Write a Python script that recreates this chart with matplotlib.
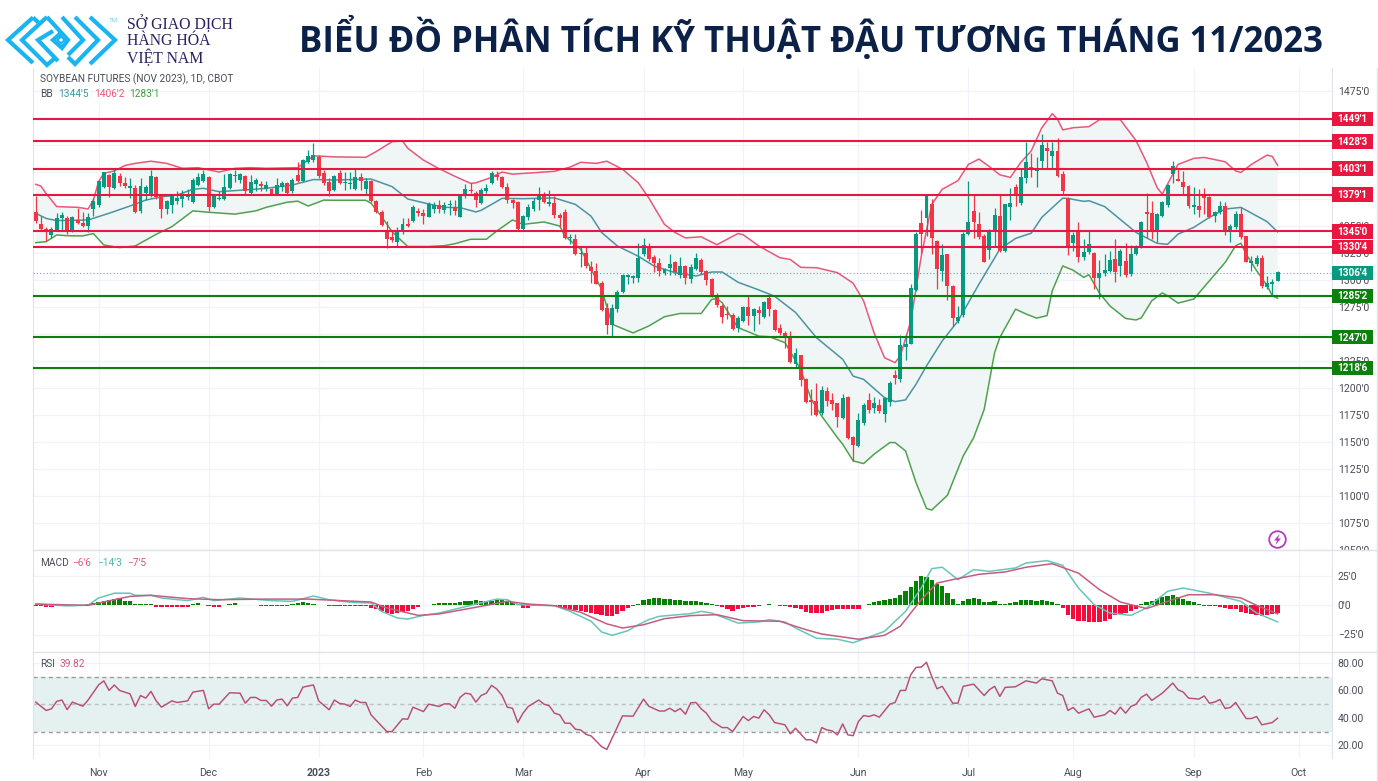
import numpy as np
import matplotlib
matplotlib.use("Agg")
import matplotlib.pyplot as plt
from matplotlib.patches import Rectangle, Circle, Polygon

W, H = 1378, 781

opens = [1363,1352,1347.5,1342,1346,1357,1357,1344,1356,1353,
 1350,1366,1369,1386,1397,1385,1396,1390,1385.5,1385.5,
 1363.5,1381,1378,1395,1379,1365.5,1369,1373,1375,1377,
 1372,1388,1392,1395,1368,1375,1375,1385,1396,1393,
 1396,1381,1389,1389,1384,1384,1380,1386,1390,1382,
 1397,1392,1409,1411,1413.5,1399,1391,1383,1399,1390,
 1389,1384,1395,1384,1392,1373,1363,1346,1340,1335.5,
 1344,1352,1355,1364,1362,1358.5,1366,1369,1365,1369.5,
 1368,1358.6,1378.7,1383,1381,1371,1382,1389.5,1397.5,1395,
 1386.4,1374,1372,1347,1358.6,1365.4,1373.8,1380,1370,1371,
 1360,1363,1338.5,1337.5,1324,1325,1312,1308.5,1297.5,1274,
 1258,1273,1289,1303,1302,1301.5,1323.8,1331,1321.6,1316,
 1306.8,1311,1317,1304.6,1313,1301,1310.5,1318.5,1308.3,1301,
 1286,1276,1268.5,1267.5,1256,1262,1275,1267,1272,1266,
 1283,1272,1256,1250.6,1246.6,1222,1230.6,1208,1188.6,1187.7,
 1176.6,1197,1188.6,1185.9,1172,1192,1155,1146.4,1168,1189.3,
 1181.3,1184.3,1175.7,1187.4,1211.8,1208.7,1238,1241,1290.8,1352.5,
 1357,1370,1336,1308.4,1324,1294.5,1262,1267.7,1343,1364,
 1352,1341,1327.7,1346,1359.5,1326.8,1367.8,1385.7,1371,1394.4,
 1404.5,1401,1409.8,1422,1415,1419.4,1398,1376,1334,1345,
 1321,1325.5,1325,1301.5,1306.4,1308.3,1319.4,1312.6,1318,1305.5,
 1324,1331,1363,1362,1345.6,1358.9,1369.4,1398,1393.4,1391,
 1386.6,1367.8,1368.7,1377.4,1376.5,1358.9,1362.6,1368.7,1345.6,1349.3,
 1361,1340.4,1316,1314.7,1320.3,1293.8,1295.9,1299.3]
highs = [1378,1359,1349,1349,1362,1363,1359,1359,1367,1363,
 1362,1376,1392,1400,1398,1404,1399,1395,1394,1388,
 1394,1388,1402,1396,1380,1374,1379,1382,1383,1384,
 1394,1399,1402,1396,1380,1382,1398,1399,1402,1399,
 1397,1397,1394,1392,1392,1385,1394,1392,1391,1394,
 1409,1412,1420,1427,1416,1402,1394,1397,1402,1400,
 1400,1403,1399,1394,1393,1374,1365,1355,1345,1349,
 1357,1357,1369,1367,1366,1372,1372,1374,1372,1374,
 1374,1379,1388.5,1389.5,1382,1385.5,1388.5,1400.6,1401,1396,
 1389.5,1375,1373,1360,1370,1376,1386.4,1381.5,1383,1378,
 1362,1366,1343,1343,1331,1331,1317.6,1316,1299,1279,
 1277.5,1291,1306,1306,1305,1334.5,1339,1334.5,1323,1320.7,
 1311.4,1324,1317.6,1321.6,1313.6,1314.5,1325,1320.7,1309,1302,
 1288,1277.5,1276,1269,1266.7,1276,1285,1274.4,1276,1281,
 1286,1273,1259,1253,1253,1237,1231,1209,1199,1204.4,
 1202,1201.3,1195.8,1186.5,1194,1192.7,1156,1176.6,1186.5,1195.8,
 1192,1189.6,1192,1206.6,1216.4,1249,1249,1296,1344,1365,
 1378.5,1375,1336.8,1333,1324.4,1295,1276,1344.5,1392,1378.6,
 1363,1342.5,1347,1367,1378.6,1370.6,1384.8,1388.8,1404,1428,
 1418,1413.5,1435,1428,1428,1431.4,1401,1376.5,1344,1354,
 1337.9,1345.6,1326,1318.8,1324,1327,1337.9,1328.6,1334,1332.3,
 1332.3,1355,1381,1373.4,1362,1373.4,1388.8,1410,1404,1401,
 1387.9,1385.7,1384,1384.8,1377.4,1364,1373.4,1372.5,1351.8,1364,
 1368,1341,1322.4,1323,1323,1304,1300.8,1308.6]
lows = [1353,1346,1336,1339,1345,1346,1343,1344,1352,1349,
 1344,1359,1368,1385,1377,1384,1387,1385,1376,1362,
 1362,1374,1377,1375,1357,1361,1362,1370,1368,1374,
 1371,1387,1391,1364,1367,1374,1374,1384,1391,1390,
 1379,1380,1382,1382,1382,1379,1379,1382,1379,1381,
 1391,1391,1408,1409,1394,1388,1378,1382,1389,1383,
 1384,1383,1383,1380,1372,1362,1350,1330,1335,1331,
 1343,1349,1354,1359,1352,1358,1362,1362,1362,1360,
 1360,1358,1376,1381,1368,1370,1381,1388.5,1393,1385.5,
 1371,1367,1346,1346,1356,1364,1364.5,1371.6,1368.5,1357,
 1349,1338,1333,1323,1312,1311,1297,1296,1271,1250,
 1248,1270,1288,1296,1297,1298,1322,1318,1307,1304,
 1305,1305,1304.6,1302,1296,1297.5,1309,1306,1295,1284,
 1275,1260,1263.5,1254,1252,1261,1258,1253,1259,1265,
 1267,1253,1249,1237,1223,1219,1202,1186,1175,1174,
 1175,1183.4,1179.7,1164.3,1171,1153,1132.5,1145.8,1165.5,1176.6,
 1176.6,1176.6,1168.6,1183.4,1203.5,1206,1226,1240.5,1290,1325,
 1341,1324,1291.4,1299,1281.5,1257.5,1260.5,1266,1342,1338.5,
 1338,1316.3,1319,1331.7,1325.5,1326,1355.8,1368.8,1369.4,1390,
 1395,1385.7,1402.7,1403.6,1404,1395.6,1379.5,1323.4,1327,1316.3,
 1318.8,1324,1291.6,1282.3,1304,1307,1298.4,1304,1302.4,1304,
 1323,1330,1339,1338,1334.8,1358,1368,1390,1391.8,1379.5,
 1367,1361,1358,1361,1357,1353.3,1361,1341.6,1334.8,1347,
 1338,1316.3,1308.6,1313.2,1293,1291.6,1285.5,1298.7]
closes = [1355,1347.5,1344,1347.5,1357,1360,1344,1358,1353,1350,
 1358.6,1372.7,1391.5,1399.7,1386,1399,1390,1387,1386,1363,
 1387,1386,1396,1377,1365.5,1373,1378,1376,1378.5,1377.5,
 1393,1395,1398.5,1368,1378,1376,1386,1398,1397,1398,
 1382,1391,1392.5,1387,1388,1380,1388,1390,1381,1393,
 1392,1411,1415,1416,1396,1389.5,1382,1396,1390,1391,
 1390,1395,1392,1392,1373,1363,1351,1338,1337,1345,
 1352,1350,1367.5,1362,1359,1370,1369,1366,1369,1370,
 1364,1378.7,1384,1382,1374,1383,1385.5,1399.4,1395,1386.4,
 1374,1371.6,1347,1359,1368,1373.5,1378.7,1372.5,1372,1360,
 1357,1339,1339,1324,1325,1313,1308.5,1296,1272,1258,
 1274,1289,1304.6,1303.5,1303.5,1320,1332.4,1319,1315.5,1308.3,
 1310,1314.5,1307.4,1313,1301.5,1312,1320,1307.7,1300,1285,
 1277,1266,1267.5,1255,1264.5,1275,1266.7,1273,1269,1280,
 1273,1254,1250.6,1247,1224,1232,1207.5,1187.4,1187,1175.4,
 1198,1187.7,1185.6,1173,1190.5,1154,1147,1170.4,1184.6,1179.7,
 1186,1179,1190.5,1205,1209,1239.9,1241,1292.7,1343,1342.3,
 1378,1339,1310,1323,1294.5,1264.6,1265.8,1343,1354,1354,
 1339.4,1317,1346,1360,1326.8,1370,1371,1377.4,1395,1408.9,
 1403.3,1401.8,1425,1419.4,1419.7,1396.5,1382,1331.7,1341.6,1321,
 1325.5,1333.3,1301.5,1306.4,1308.9,1318.4,1307,1326.8,1304.9,1324,
 1331,1353.3,1361,1345.6,1361,1372.5,1387.9,1405.8,1392,1386.3,
 1368.1,1368.7,1364.4,1375.8,1358.6,1363.2,1368.7,1345.6,1350.2,1361,
 1339.4,1317,1317,1320,1294,1296.8,1298.4,1307]

upper_x = [0,1,2,4,6,8,10,11,12,13,15,17,19,22,25,28,31,35,38,41,44,50,53,57,63,65,68,70,71,74,77,80,83,84,87,89,91,94,99,102,104,107,109,112,115,117,120,122,124,127,130,134,135,138,142,144,146,149,153,156,158,160,162,164,165,167,169,171,173,176,178,180,182,184,186,188,190,192,194,195,196,198,201,203,207,210,212,214,215,217,218,221,223,227,229,230,232,235,236,237]
upper_y = [1388.6,1387,1380,1368,1367.6,1367.3,1365.8,1374,1391,1398.8,1401,1406,1408,1410,1408,1403.4,1404,1400,1403.4,1404,1403.4,1404,1415,1414,1413.6,1419,1428,1428.7,1422,1411,1403,1396,1389.5,1390,1395,1400,1398,1399,1400.6,1404.6,1409,1408,1410,1402.5,1390,1376,1351.5,1344,1339,1340,1332.7,1343,1342,1331.5,1320.7,1319,1311.7,1311.4,1306.8,1297,1280.6,1251,1228,1223.5,1229.7,1262,1322,1370,1384,1392,1407,1412,1405,1397.4,1395,1408.9,1419.7,1441,1454,1449,1439,1441,1442,1448.4,1448.4,1429,1409,1385.7,1379.5,1398,1407,1412.6,1413.5,1409.5,1401,1399.6,1407,1415.7,1414.4,1406.2]
lower_x = [0,2,4,6,9,11,13,16,19,23,26,30,33,38,42,44,48,50,52,55,57,63,64,66,68,70,71,75,78,80,83,86,88,91,93,97,100,101,104,106,108,110,114,117,120,123,127,129,130,131,134,138,140,143,146,148,150,153,154,156,158,160,163,164,166,168,170,171,174,177,179,181,183,184,187,189,191,193,194,196,198,200,201,203,205,208,210,211,213,215,216,218,221,224,227,229,230,231,233,235,236,237]
lower_y = [1334.6,1335.5,1341.7,1341,1340.8,1343,1332.4,1330,1331.5,1342.3,1349.4,1364,1362.7,1361,1364,1367.3,1372,1373,1368.5,1374,1373.8,1373.8,1371,1358.7,1344.8,1335.5,1331,1331,1331.8,1333.6,1337.7,1337.7,1345.4,1355.6,1351.5,1353.7,1350,1340.7,1328.4,1310,1291.4,1259,1251,1257.4,1266,1269,1269,1282,1282.7,1279,1256,1248,1247.5,1242,1217,1189.6,1174,1154,1148,1132.5,1130,1138.7,1149.5,1149.5,1141.7,1112.4,1088.4,1087,1100.7,1137,1154,1180,1232.8,1246.8,1273,1268.5,1264.7,1267,1290,1313,1309,1302.4,1304.9,1288,1276,1264.4,1263,1265,1280.8,1288,1285.4,1278.6,1282.3,1299.3,1316.3,1331.7,1334,1324,1308.6,1294.7,1285.4,1283.1]
basis_x = [0,2,4,10,14,18,21,24,27,30,32,35,40,44,49,53,57,64,68,71,75,78,81,84,85,87,89,93,99,103,106,108,111,115,118,122,126,129,131,134,138,141,145,149,154,156,158,162,164,166,168,170,173,176,180,184,187,190,192,196,197,200,201,204,207,210,214,216,218,221,224,227,230,232,235,237]
basis_y = [1361.8,1357,1355,1355.6,1361.8,1368.5,1374,1377,1378.7,1384,1384.9,1381.8,1383.4,1384.9,1388,1393,1392.6,1393.5,1386.5,1375,1370.4,1367.3,1367,1363,1364.5,1370,1375.6,1375.3,1376,1370,1359,1344,1331.5,1322,1313,1306.8,1303.7,1307.4,1307.4,1298,1290.8,1285,1270,1246.6,1226.6,1211,1208,1191,1187.4,1189,1203.5,1220.4,1243.6,1262,1296,1328.6,1338.5,1343.4,1358,1375.8,1375.5,1372.8,1373.4,1368,1356,1344,1334,1333,1342.5,1348.7,1358,1365.7,1367.2,1362,1354,1344.6]

macd_hist = [-0.8,-1.1,-1.5,-1.5,-0.8,-0.4,-0.4,-0.3,-0.3,-0.2,
 0.8,1.5,2.6,3.8,4.5,5.3,6,3.8,3,1,
 0.8,0.8,0.8,-1.5,-1.5,-1.5,-1.5,-1.5,-1.5,-1.5,
 0.8,1.5,-0.4,-0.8,-1.5,-1.5,0.4,0.8,1.5,0.4,
 0.2,0.2,-0.4,-0.8,-0.8,-0.8,-0.8,-0.8,-0.5,1.1,
 1.5,2.6,1.5,0.8,0.4,-0.4,-0.8,-0.8,-1.1,-1.1,
 -1.1,-1.1,-1.1,-1.1,-2.3,-3,-5.3,-6.8,-7.5,-7.2,
 -6,-5,-3.8,-1.9,-0.4,0.4,0.8,1.5,1.9,1.9,
 1.9,2.3,3,3.4,4.2,3,3.4,3.8,4.5,4.9,
 3.8,2.3,-0.4,-2.3,-2.6,-1.1,-0.3,-0.4,-0.4,-0.8,
 -2.3,-3,-3.8,-4.5,-5.3,-6,-6.8,-7.5,-8.3,-9.5,
 -9,-7.5,-5,-2.6,-0.8,1.1,4.5,5.3,5.7,5.7,
 5.3,4.9,4.5,4.2,3.8,3.1,3.1,2.5,2,0.8,
 -0.8,-1.7,-3,-4.8,-3.1,-2.8,-1.9,-1.5,-1.1,0.4,
 0.8,0.4,-0.8,-1,-1.9,-2.6,-3.8,-5.7,-6.8,-7.2,
 -6.4,-5.3,-4.2,-3.8,-3,-3,-3.4,-3.8,0.4,1.1,
 2.6,3.4,4.5,5.3,6,8.7,11.6,15,20.6,25,
 23.7,21,18,16,10,5,1,3,5,6,
 5.4,2.5,2.5,3,0.8,1,1.7,2.2,4,4.5,
 4.2,3.7,4.5,3.7,2.5,0.8,-2.5,-8.2,-11.6,-13.6,
 -13.8,-14.4,-14.7,-14.4,-13.3,-11.6,-8.8,-7.6,-6.8,-5.4,
 -3.1,0.8,2.5,3,5,6.5,8,8.2,6.8,5.4,
 3,2.3,1.1,-0.5,-0.5,-0.5,-1.4,-2.5,-3.4,-3.7,
 -6.2,-6.8,-7.6,-8.2,-9,-8.2,-7.5,-6.6]
macd_x = [0,6,10,12,15,18,19,22,24,29,32,34,39,45,49,53,56,60,64,66,69,71,74,77,81,84,88,90,92,99,102,106,108,110,113,115,117,119,125,127,129,134,138,140,143,145,149,153,156,158,162,166,169,171,173,176,179,182,187,189,193,196,199,202,205,209,212,216,219,224,230,233,237]
macd_y = [0.8,-0.8,0,5.9,10,10,8.2,8.2,5.9,3.7,6.5,3.7,5.9,3.7,3.1,7.6,4.5,2.3,1.7,-5.4,-11,-11.9,-8.8,-6.8,-2.5,0.8,5,4.5,0.3,-0.6,-5.4,-13.8,-22.9,-25.7,-21.8,-16.7,-12.4,-9.6,-7.3,-5.4,-6.8,-15.3,-14.4,-12.4,-14.4,-19.5,-28.2,-29,-32,-28.8,-22.3,-5.4,14.4,30.8,32,21.5,30,28.5,31.4,35.6,37.6,33.6,14.4,0.3,-6.8,-8.8,-2.5,11.6,14.4,10,3.1,-6.8,-14.3]
signal_x = [0,10,15,18,22,29,35,44,52,64,67,73,77,86,90,94,99,104,109,112,116,120,125,130,135,142,147,150,157,162,165,169,172,175,180,185,189,194,199,203,207,212,217,220,225,230,233,237]
signal_y = [0.8,-0.3,4.5,7.3,8.2,5.4,4.5,5,5,2.5,-2.5,-8.8,-7.6,-0.3,3.1,0.8,-0.6,-6.2,-16,-19.5,-16.7,-11.6,-9,-8.2,-13.3,-13.8,-20.9,-24.6,-29,-25.7,-18,4.5,18.6,21.5,26,28,32,35,27,13,2.5,-3,4.5,8.7,8.7,6,-0.3,-7.5]

rsi_x = [0,2,3,4,5,6,7,9,10,12,13,14,15,16,18,19,20,21,22,23,24,26,27,29,30,32,33,34,35,37,39,40,41,42,43,44,45,46,47,48,49,50,51,53,54,56,57,58,59,60,61,62,63,64,67,68,70,71,72,74,75,77,78,79,80,81,82,83,84,85,86,87,88,89,90,91,92,93,94,96,97,98,99,100,101,102,103,104,105,106,108,109,112,114,116,117,119,120,121,122,123,124,125,126,127,128,129,131,132,133,135,136,137,138,139,140,141,143,144,145,147,148,149,150,151,152,153,154,155,156,157,158,159,160,161,163,164,165,166,167,168,169,170,171,172,173,175,176,177,179,181,182,183,184,185,187,189,191,192,194,195,196,197,198,199,201,202,204,205,206,207,208,209,210,211,212,213,215,217,218,219,220,222,223,224,225,226,227,228,229,231,232,233,234,236,237]
rsi_y = [51.5,45.4,46.6,52,53,46,51.5,48.5,53,64,67,60,64,60,57.5,48.3,56.3,54.4,59.3,52.4,47.8,52.4,51.2,52.4,58.8,60,46.6,50,50,58.3,58,50.7,54.9,54.9,52.7,52.7,48.5,53,53.7,48.8,54.4,54.9,62.4,64,52.4,45.9,53,50.5,50,48.3,53,51.2,51.2,42.2,30,30,39.3,39,47.8,44.6,50,48.3,50.2,50.2,47,55,58,57.3,51.5,56.3,58,63.7,61,56.3,47.8,47,36.6,43.4,48.3,53,50,48.8,43.4,42.2,36.1,36.1,31.7,31.2,28,26.8,19,17,41.5,41.2,53.7,48.5,45,45,47,44.6,46.8,42.7,51,51.2,46.6,43.4,37.8,32.9,32.9,30,41,38,41,39.8,45.9,42.2,36.6,34.9,28.4,32.4,24,24,21.7,32.9,31.2,30.5,27.6,35.6,27.6,27,37.3,41.7,41,42.2,40.5,50,51.2,60,60,71.5,76.8,77,80.5,70.2,61.2,63,50.7,50.7,63,64.6,56.3,60.5,63,55.6,62.2,62.7,67,65.4,68.5,67,58,56.3,45.4,47.6,43.4,46.6,40.5,42.2,45.4,42.7,47.8,43.4,48.3,50,55,57.3,52.7,58,65.4,60.5,58.8,54.4,53.7,56,50.7,51.5,53.4,46.8,47.6,51.2,39.5,39.5,41,34.9,36.6,39.82]

level_values = [1449.125,1428.375,1403.125,1379.125,1345.0,1330.5,1285.25,1247.0,1218.75]
level_labels = ["1449'1","1428'3","1403'1","1379'1","1345'0","1330'4","1285'2","1247'0","1218'6"]
level_kinds = ["r","r","r","r","r","r","g","g","g"]
last_price = 1306.5
last_label = "1306'4"

month_labels = ["Nov","Dec","2023","Feb","Mar","Apr","May","Jun","Jul","Aug","Sep","Oct"]
month_bars = [12,33,54,74,93,116,135,157,178,198,221,241]
price_ticks = list(range(1050, 1476, 25))
hidden_price_ticks = [1250,1375,1400,1425,1450]
macd_ticks = [25,0,-25]
macd_tick_labels = ["25'0","0'0","\u221225'0"]
rsi_ticks = [80,60,40,20]

UP, DOWN = "#089981", "#F23645"
LINE_R, LINE_G = "#E8173F", "#0B800B"
GRID, SEP = "#F0F3FA", "#E0E3EB"
TXT = "#4A4D58"
FONT = "Roboto"

plt.rcParams["font.family"] = [FONT, "DejaVu Sans"]
fig = plt.figure(figsize=(W/100, H/100), dpi=100, facecolor="white")

def pane(top, bottom):
    return fig.add_axes([33/W, 1-bottom/H, (1332-33)/W, (bottom-top)/H])

X0, DX = 35.7, 5.24
xlim = ((33-X0)/DX, (1332-X0)/DX)
def px2bar(px):
    return (px-X0)/DX

ax = pane(68, 550)
ax2 = pane(550, 652)
ax3 = pane(652, 758)
for a in (ax, ax2, ax3):
    a.set_xlim(*xlim)
    a.set_xticks(month_bars)
    a.grid(True, color=GRID, lw=0.9)
    a.set_axisbelow(True)
    for s in a.spines.values():
        s.set_visible(False)
    a.spines["left"].set_visible(True)
    a.spines["left"].set_color(SEP)
    a.spines["right"].set_visible(True)
    a.spines["right"].set_color(SEP)
    a.yaxis.tick_right()
    a.tick_params(axis="both", length=0, labelsize=7.6, labelcolor=TXT)
    a.tick_params(axis="y", pad=4.2)
ax.tick_params(axis="x", labelbottom=False)
ax2.tick_params(axis="x", labelbottom=False)

# price pane
ax.set_ylim(1050, 1200+(388-68)/1.08)
ax.set_yticks(price_ticks)
ax.set_yticklabels(["" if v in hidden_price_ticks else f"{v}'0" for v in price_ticks])

ax.fill(list(upper_x)+list(lower_x[::-1]), list(upper_y)+list(lower_y[::-1]),
        color="#EFF6F5", lw=0, zorder=1)
ax.plot(upper_x, upper_y, color="#E9577A", lw=1.1, zorder=3)
ax.plot(lower_x, lower_y, color="#4FA14F", lw=1.1, zorder=3)
ax.plot(basis_x, basis_y, color="#4C93A3", lw=1.1, zorder=3)

idx = np.arange(len(closes))
o, h, l, c = map(np.array, (opens, highs, lows, closes))
cols = np.where(c >= o, UP, DOWN)
ax.vlines(idx, l, h, colors=cols, lw=0.9, zorder=4)
ax.bar(idx, np.maximum(np.abs(c-o), 1.2), bottom=np.minimum(o, c), width=0.76,
       color=cols, lw=0, zorder=5)

ax.axhline(last_price, color=UP, lw=0.8, ls=(0, (1, 2)), alpha=0.7, zorder=3)
for v, lab, k in zip(level_values, level_labels, level_kinds):
    col = LINE_R if k == "r" else LINE_G
    ax.axhline(v, color=col, lw=1.5, zorder=6)

bx0, bw = px2bar(1332), 41/DX
bh = 14.5/1.08
bc = px2bar(1352.5)
def tag(v, lab, col):
    ax.add_patch(Rectangle((bx0, v-bh/2), bw, bh, color=col, lw=0, clip_on=False, zorder=12))
    ax.text(bc, v-0.4, lab, color="white", ha="center", va="center", fontsize=7.2,
            fontweight="bold", clip_on=False, zorder=13)
for v, lab, k in zip(level_values, level_labels, level_kinds):
    tag(v, lab, LINE_R if k == "r" else LINE_G)
tag(last_price, last_label, "#089981")

# MACD pane
ax2.set_ylim(-(652-605)/1.18, (605-550)/1.18)
ax2.set_yticks(macd_ticks)
ax2.set_yticklabels(macd_tick_labels)
hist = np.array(macd_hist)
ax2.bar(np.arange(len(hist)), hist, width=0.82, lw=0, zorder=3,
        color=np.where(hist >= 0, "#058005", "#F20D3C"))
ax2.plot(macd_x, macd_y, color="#66C6BA", lw=1.1, zorder=4)
ax2.plot(signal_x, signal_y, color="#C65C80", lw=1.1, zorder=5)

# RSI pane
ax3.set_ylim(20-(758-745.3)/1.37, 80+(663-652)/1.37)
ax3.set_yticks(rsi_ticks)
ax3.set_yticklabels([f"{v}.00" for v in rsi_ticks])
ax3.axhspan(30, 70, color="#E5F0F1", lw=0, zorder=1)
for v, al in zip((70, 50, 30), (1, 0.55, 1)):
    ax3.axhline(v, color="#9A9C9E", lw=1.0, ls=(0, (3, 2.5)), alpha=al, zorder=2)
ax3.plot(rsi_x, rsi_y, color="#B94E73", lw=1.05, zorder=4)
ax3.set_xticklabels(month_labels)
for t in ax3.get_xticklabels():
    if t.get_text() == "2023":
        t.set_fontweight("bold")
ax3.tick_params(axis="x", pad=7)

# overlay: page furniture in pixel space
ov = fig.add_axes([0, 0, 1, 1], zorder=20)
ov.set_xlim(0, W)
ov.set_ylim(H, 0)
ov.axis("off")
ov.patch.set_alpha(0)
ov.add_patch(Rectangle((1333, 551), 45, 12, color="white", lw=0, zorder=1))
for y in (550, 652):
    ov.plot([33, 1376], [y, y], color=SEP, lw=1.0, zorder=2)
ov.plot([1377, 1377], [68, 781], color=SEP, lw=1.0, zorder=2)

def txt(x, y, s, col=TXT, size=7.3, **kw):
    ov.text(x, y, s, color=col, fontsize=size, va="center", ha="left", **kw)

txt(40, 79, "SOYBEAN FUTURES (NOV 2023), 1D, CBOT")
txt(40, 94, "BB")
txt(58, 94, "1344'5", "#3F93A3")
txt(94, 94, "1406'2", "#E9577A")
txt(129, 94, "1283'1", "#3F9F3F")
txt(40, 563, "MACD")
txt(72, 563, "\u22126'6", "#E9577A")
txt(97, 563, "\u221214'3", "#4FB7AA")
txt(127, 563, "\u22127'5", "#C65C80")
txt(40, 664, "RSI")
txt(60, 664, "39.82", "#C65C80")

# replay icon
ov.add_patch(Circle((1277.5, 539.5), 8.3, fill=False, ec="#B23CC0", lw=1.3, zorder=3))
ov.add_patch(Polygon([(1279.5, 534), (1274, 540.5), (1277, 540.5), (1275.5, 545),
                      (1281, 538.5), (1278, 538.5)], closed=True, color="#B23CC0", lw=0, zorder=3))

# title and logo
ov.text(811, 38.5, "BIỂU ĐỒ PHÂN TÍCH KỸ THUẬT ĐẬU TƯƠNG THÁNG 11/2023",
        family=["Open Sans", "DejaVu Sans"], fontweight="bold", fontsize=25.0,
        color="#0B2148", ha="center", va="center")
LOGO = "#19B5F1"
logo_paths = [
    [(33, 17.5), (8, 40), (33, 63)],
    [(33, 17.5), (40, 24)],
    [(47, 17), (22, 40), (47, 65), (55, 58)],
    [(53, 31), (38, 40), (58, 61)],
    [(47, 17), (68, 40), (62, 48), (53, 40), (61, 33)],
    [(62, 17), (83, 40), (68, 55)],
    [(75, 17), (98, 40), (75, 64), (68, 57)],
    [(90, 17), (115, 40), (90, 64)],
]
for p in logo_paths:
    xs, ys = zip(*p)
    ov.plot(xs, ys, color=LOGO, lw=3.0, solid_joinstyle="miter", solid_capstyle="butt", zorder=3)
ov.add_patch(Polygon([(61, 36.5), (64.5, 40), (61, 43.5), (57.5, 40)], closed=True, fill=False,
                     ec=LOGO, lw=1.5, zorder=3))
ov.text(113, 20, "TM", color="#7FD0EE", fontsize=4.5, ha="center", va="center")
for y, s in zip((24, 41, 58), ("SỞ GIAO DỊCH", "HÀNG HÓA", "VIỆT NAM")):
    ov.text(127, y, s, family=["Liberation Serif", "DejaVu Serif"], fontsize=11.3,
            color="#2B1F62", ha="left", va="center")

fig.savefig("out.png", dpi=100)
